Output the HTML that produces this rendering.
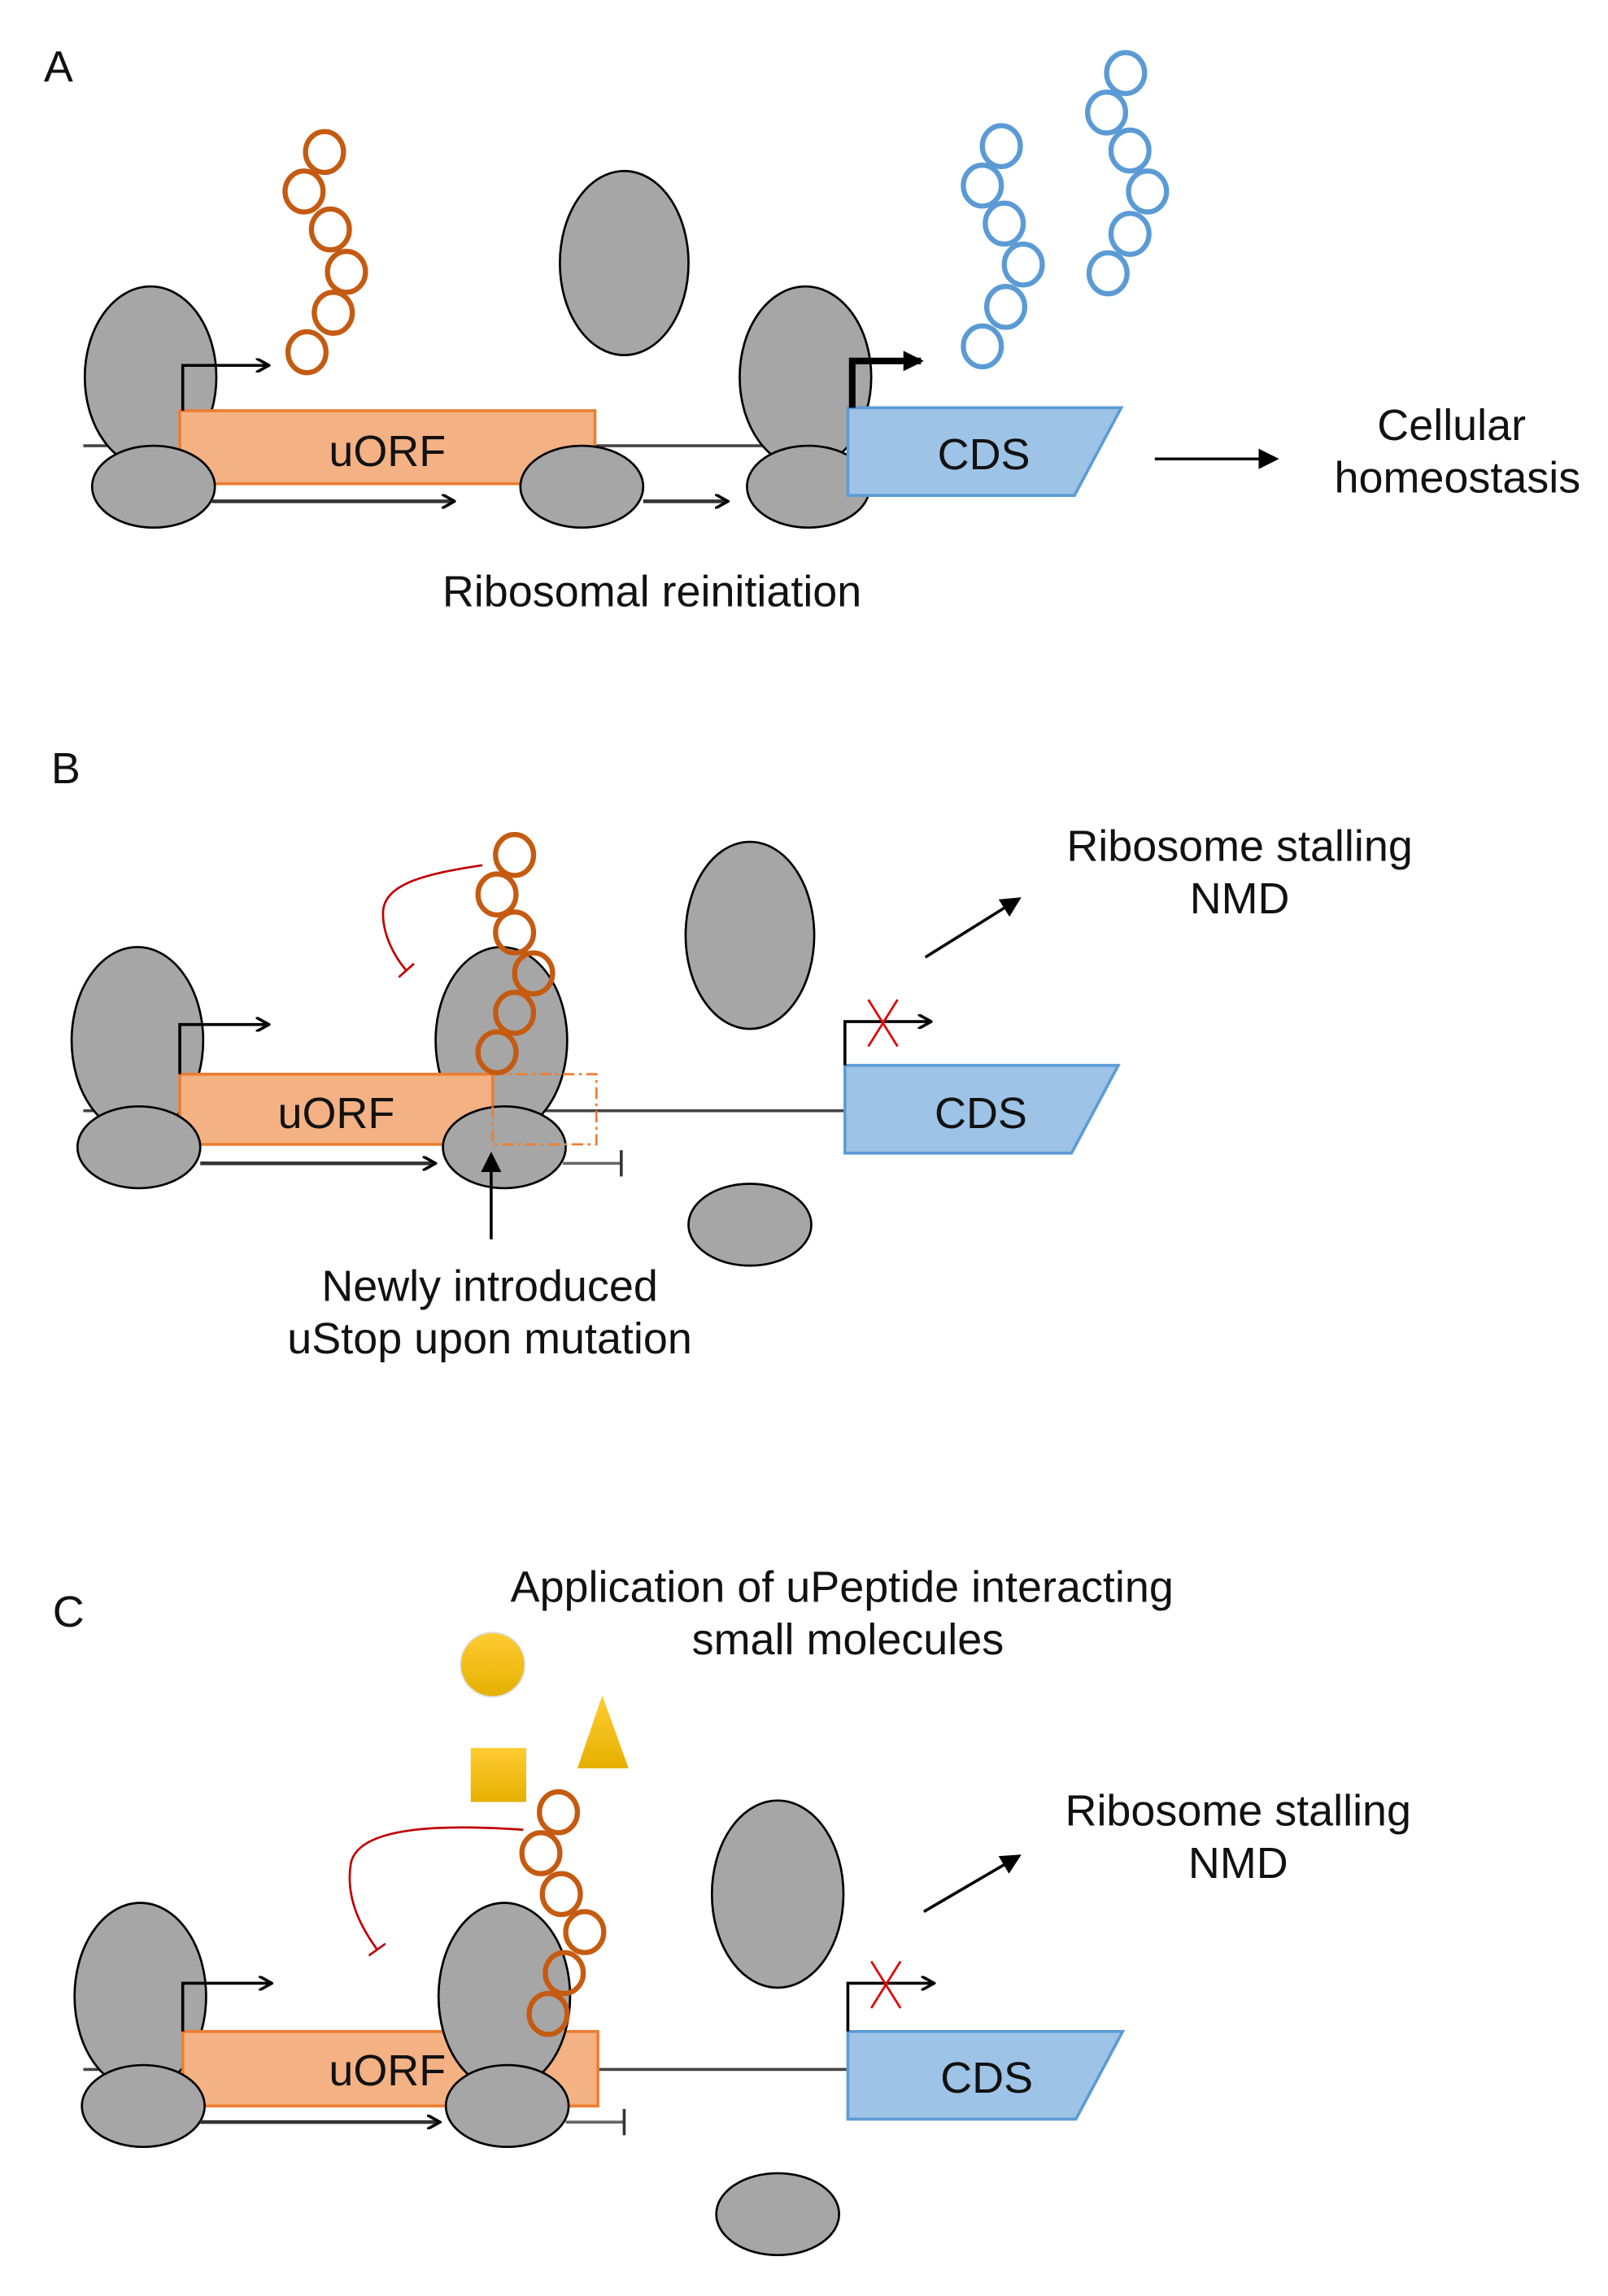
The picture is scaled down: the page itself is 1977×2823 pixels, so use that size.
<!DOCTYPE html>
<html><head><meta charset="utf-8"><style>html,body{margin:0;padding:0;background:#fff}svg{display:block}</style></head>
<body>
<svg width="1977" height="2823" viewBox="0 0 1100 1571" preserveAspectRatio="none" xmlns="http://www.w3.org/2000/svg" font-family="Liberation Sans, Arial, sans-serif">
<defs>
<marker id="ah" markerWidth="10" markerHeight="10" refX="8" refY="5" orient="auto" markerUnits="userSpaceOnUse"><path d="M0,0 L9,5 L0,10" fill="none" stroke="#000" stroke-width="2"/></marker>
<marker id="af" markerWidth="14" markerHeight="14" refX="12" refY="7" orient="auto" markerUnits="userSpaceOnUse"><path d="M0,0 L14,7 L0,14 z" fill="#000"/></marker>
<marker id="tb" markerWidth="4" markerHeight="18" refX="2" refY="9" orient="auto" markerUnits="userSpaceOnUse"><line x1="2" y1="0" x2="2" y2="18" stroke="#333" stroke-width="2"/></marker>
<marker id="tr" markerWidth="4" markerHeight="14" refX="2" refY="7" orient="auto" markerUnits="userSpaceOnUse"><line x1="2" y1="0" x2="2" y2="14" stroke="#c00000" stroke-width="1.5"/></marker>
<linearGradient id="yg" x1="0" y1="0" x2="0" y2="1"><stop offset="0" stop-color="#ffcc33"/><stop offset="1" stop-color="#e6b000"/></linearGradient>
</defs>
<g font-size="30" fill="#111">
<!-- Panel A -->
<text x="30" y="56">A</text>
<line x1="57" y1="305" x2="580" y2="305" stroke="#444" stroke-width="2"/>
<ellipse cx="103" cy="258" rx="45" ry="62" fill="#a6a6a6" stroke="#000" stroke-width="1.5"/>
<ellipse cx="427" cy="180" rx="44" ry="63" fill="#a6a6a6" stroke="#000" stroke-width="1.5"/>
<ellipse cx="551" cy="258" rx="45" ry="62" fill="#a6a6a6" stroke="#000" stroke-width="1.5"/>
<rect x="123" y="281" width="284" height="50" fill="#f4b183" stroke="#ed7d31" stroke-width="2"/>
<text x="265" y="319" text-anchor="middle">uORF</text>
<polyline points="125,281 125,250 183,250" fill="none" stroke="#000" stroke-width="2" marker-end="url(#ah)"/>
<ellipse cx="105" cy="333" rx="42" ry="28" fill="#a6a6a6" stroke="#000" stroke-width="1.5"/>
<ellipse cx="398" cy="333" rx="42" ry="28" fill="#a6a6a6" stroke="#000" stroke-width="1.5"/>
<ellipse cx="553" cy="333" rx="42" ry="28" fill="#a6a6a6" stroke="#000" stroke-width="1.5"/>
<line x1="145" y1="343" x2="310" y2="343" stroke="#333" stroke-width="2.5" marker-end="url(#ah)"/>
<line x1="440" y1="343" x2="497" y2="343" stroke="#333" stroke-width="2.5" marker-end="url(#ah)"/>
<polygon points="580,279 767,279 735,339 580,339" fill="#9dc3e6" stroke="#5b9bd5" stroke-width="2"/>
<text x="673" y="321" text-anchor="middle">CDS</text>
<polyline points="583,279 583,247 630,247" fill="none" stroke="#000" stroke-width="4.5" marker-end="url(#af)"/>
<g fill="none" stroke="#c55a11" stroke-width="3.5">
<ellipse cx="222" cy="104" rx="13" ry="14"/><ellipse cx="208" cy="131" rx="13" ry="14"/><ellipse cx="226" cy="157" rx="13" ry="14"/><ellipse cx="237" cy="186" rx="13" ry="14"/><ellipse cx="228" cy="214" rx="13" ry="14"/><ellipse cx="210" cy="241" rx="13" ry="14"/>
</g>
<g fill="none" stroke="#5b9bd5" stroke-width="3.5">
<ellipse cx="685" cy="100" rx="13" ry="14"/><ellipse cx="672" cy="127" rx="13" ry="14"/><ellipse cx="687" cy="153" rx="13" ry="14"/><ellipse cx="700" cy="181" rx="13" ry="14"/><ellipse cx="688" cy="210" rx="13" ry="14"/><ellipse cx="672" cy="237" rx="13" ry="14"/>
<ellipse cx="770" cy="50" rx="13" ry="14"/><ellipse cx="757" cy="77" rx="13" ry="14"/><ellipse cx="773" cy="103" rx="13" ry="14"/><ellipse cx="785" cy="131" rx="13" ry="14"/><ellipse cx="773" cy="160" rx="13" ry="14"/><ellipse cx="758" cy="187" rx="13" ry="14"/>
</g>
<line x1="790" y1="314" x2="873" y2="314" stroke="#000" stroke-width="2" marker-end="url(#af)"/>
<text x="993" y="301" text-anchor="middle">Cellular</text>
<text x="997" y="337" text-anchor="middle">homeostasis</text>
<text x="446" y="415" text-anchor="middle">Ribosomal reinitiation</text>

<!-- Panel B -->
<text x="35" y="536">B</text>
<line x1="57" y1="760" x2="578" y2="760" stroke="#444" stroke-width="2"/>
<ellipse cx="94" cy="712" rx="45" ry="64" fill="#a6a6a6" stroke="#000" stroke-width="1.5"/>
<ellipse cx="343" cy="712" rx="45" ry="64" fill="#a6a6a6" stroke="#000" stroke-width="1.5"/>
<ellipse cx="513" cy="640" rx="44" ry="64" fill="#a6a6a6" stroke="#000" stroke-width="1.5"/>
<ellipse cx="513" cy="838" rx="42" ry="28" fill="#a6a6a6" stroke="#000" stroke-width="1.5"/>
<rect x="123" y="735" width="214" height="48" fill="#f4b183" stroke="#ed7d31" stroke-width="2"/>
<text x="230" y="772" text-anchor="middle">uORF</text>
<ellipse cx="95" cy="785" rx="42" ry="28" fill="#a6a6a6" stroke="#000" stroke-width="1.5"/>
<ellipse cx="345" cy="785" rx="42" ry="28" fill="#a6a6a6" stroke="#000" stroke-width="1.5"/>
<rect x="337" y="735" width="71" height="48" fill="none" stroke="#ed7d31" stroke-width="1.5" stroke-dasharray="8,3,2,3"/>
<polyline points="123,735 123,701 183,701" fill="none" stroke="#000" stroke-width="2" marker-end="url(#ah)"/>
<line x1="137" y1="796" x2="297" y2="796" stroke="#333" stroke-width="2.5" marker-end="url(#ah)"/>
<line x1="385" y1="796" x2="425" y2="796" stroke="#666" stroke-width="2" marker-end="url(#tb)"/>
<g fill="none" stroke="#c55a11" stroke-width="3.5">
<ellipse cx="352" cy="585" rx="13" ry="14"/><ellipse cx="340" cy="612" rx="13" ry="14"/><ellipse cx="352" cy="638" rx="13" ry="14"/><ellipse cx="365" cy="666" rx="13" ry="14"/><ellipse cx="352" cy="693" rx="13" ry="14"/><ellipse cx="340" cy="720" rx="13" ry="14"/>
</g>
<path d="M330,592 C290,598 262,605 262,625 C262,640 270,655 278,664" fill="none" stroke="#c00000" stroke-width="1.5" marker-end="url(#tr)"/>
<line x1="336" y1="848" x2="336" y2="790" stroke="#000" stroke-width="2" marker-end="url(#af)"/>
<text x="335" y="890" text-anchor="middle">Newly introduced</text>
<text x="335" y="926" text-anchor="middle">uStop upon mutation</text>
<polygon points="578,729 765,729 733,789 578,789" fill="#9dc3e6" stroke="#5b9bd5" stroke-width="2"/>
<text x="671" y="772" text-anchor="middle">CDS</text>
<polyline points="578,729 578,699 636,699" fill="none" stroke="#000" stroke-width="2" marker-end="url(#ah)"/>
<path d="M594,684 L614,716 M614,684 L594,716" stroke="#e00000" stroke-width="1.5"/>
<line x1="633" y1="655" x2="697" y2="615" stroke="#000" stroke-width="2" marker-end="url(#af)"/>
<text x="848" y="589" text-anchor="middle">Ribosome stalling</text>
<text x="848" y="625" text-anchor="middle">NMD</text>

<!-- Panel C -->
<text x="36" y="1113">C</text>
<text x="576" y="1096" text-anchor="middle">Application of uPeptide interacting</text>
<text x="580" y="1132" text-anchor="middle">small molecules</text>
<circle cx="337" cy="1139" r="22" fill="url(#yg)" stroke="#ddd" stroke-width="1"/>
<rect x="322" y="1196" width="38" height="37" fill="url(#yg)"/>
<polygon points="412,1160 430,1210 395,1210" fill="url(#yg)"/>
<line x1="57" y1="1416" x2="580" y2="1416" stroke="#444" stroke-width="2"/>
<ellipse cx="96" cy="1366" rx="45" ry="64" fill="#a6a6a6" stroke="#000" stroke-width="1.5"/>
<ellipse cx="532" cy="1296" rx="45" ry="64" fill="#a6a6a6" stroke="#000" stroke-width="1.5"/>
<ellipse cx="532" cy="1515" rx="42" ry="28" fill="#a6a6a6" stroke="#000" stroke-width="1.5"/>
<rect x="125" y="1390" width="284" height="51" fill="#f4b183" stroke="#ed7d31" stroke-width="2"/>
<text x="265" y="1427" text-anchor="middle">uORF</text>
<ellipse cx="345" cy="1366" rx="45" ry="64" fill="#a6a6a6" stroke="#000" stroke-width="1.5"/>
<ellipse cx="98" cy="1441" rx="42" ry="28" fill="#a6a6a6" stroke="#000" stroke-width="1.5"/>
<ellipse cx="347" cy="1441" rx="42" ry="28" fill="#a6a6a6" stroke="#000" stroke-width="1.5"/>
<polyline points="125,1390 125,1357 185,1357" fill="none" stroke="#000" stroke-width="2" marker-end="url(#ah)"/>
<line x1="137" y1="1452" x2="300" y2="1452" stroke="#333" stroke-width="2.5" marker-end="url(#ah)"/>
<line x1="387" y1="1452" x2="427" y2="1452" stroke="#666" stroke-width="2" marker-end="url(#tb)"/>
<g fill="none" stroke="#c55a11" stroke-width="3.5">
<ellipse cx="382" cy="1240" rx="13" ry="14"/><ellipse cx="370" cy="1268" rx="13" ry="14"/><ellipse cx="384" cy="1296" rx="13" ry="14"/><ellipse cx="400" cy="1322" rx="13" ry="14"/><ellipse cx="386" cy="1350" rx="13" ry="14"/><ellipse cx="375" cy="1378" rx="13" ry="14"/>
</g>
<path d="M358,1252 C300,1248 245,1250 240,1275 C236,1300 248,1320 258,1334" fill="none" stroke="#c00000" stroke-width="1.5" marker-end="url(#tr)"/>
<polygon points="580,1390 768,1390 736,1450 580,1450" fill="#9dc3e6" stroke="#5b9bd5" stroke-width="2"/>
<text x="675" y="1432" text-anchor="middle">CDS</text>
<polyline points="580,1390 580,1357 638,1357" fill="none" stroke="#000" stroke-width="2" marker-end="url(#ah)"/>
<path d="M596,1342 L616,1374 M616,1342 L596,1374" stroke="#e00000" stroke-width="1.5"/>
<line x1="632" y1="1308" x2="697" y2="1270" stroke="#000" stroke-width="2" marker-end="url(#af)"/>
<text x="847" y="1249" text-anchor="middle">Ribosome stalling</text>
<text x="847" y="1285" text-anchor="middle">NMD</text>
</g>
</svg>
</body></html>
